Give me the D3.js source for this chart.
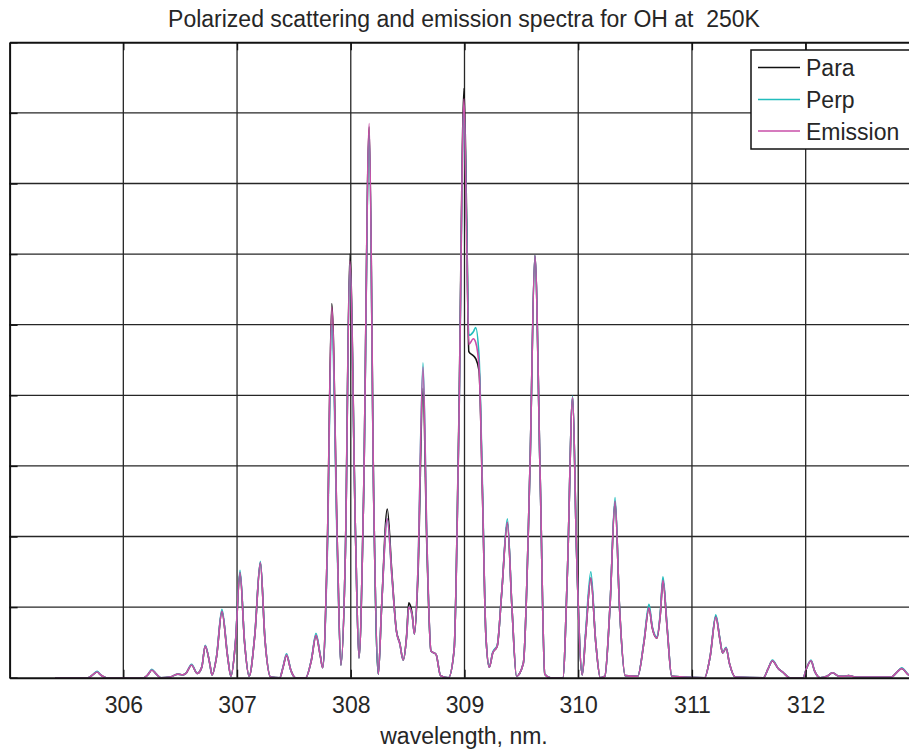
<!DOCTYPE html>
<html>
<head>
<meta charset="utf-8">
<script src="https://cdn.jsdelivr.net/npm/d3@7"></script>
<style>
  html, body { margin: 0; padding: 0; background: #fff; }
  svg { display: block; font-family: "Liberation Sans", Arial, Helvetica, sans-serif; }
</style>
</head>
<body>
<svg id="chart" width="909" height="753"></svg>
<script>
// Wavelength samples (nm), one line per group of spectral lines
const wavelengths = [
  305.40, 305.69, 305.73, 305.77, 305.80, 305.85,
  306.18, 306.22, 306.25, 306.29, 306.33, 306.41, 306.48, 306.52, 306.55,
  306.60, 306.65, 306.69, 306.72, 306.76, 306.78, 306.82, 306.867, 306.917, 306.946, 306.986, 307.026, 307.066, 307.106, 307.156, 307.205, 307.245, 307.295,
  307.375, 307.405, 307.435, 307.474, 307.514, 307.604, 307.654, 307.694, 307.733, 307.753,
  307.793, 307.833, 307.883, 307.913, 307.953, 307.992, 308.042, 308.072, 308.112, 308.162, 308.202, 308.242,
  308.271, 308.321, 308.361, 308.401, 308.431, 308.461, 308.491, 308.510, 308.540, 308.560, 308.590, 308.635, 308.670, 308.705, 308.750, 308.789, 308.859,
  308.909, 308.949, 308.996, 309.019, 309.038, 309.078, 309.098, 309.128, 309.158, 309.188, 309.218, 309.248, 309.288, 309.327, 309.377, 309.417, 309.457,
  309.517, 309.576, 309.619, 309.666, 309.706, 309.756,
  309.865, 309.905, 309.951, 309.985, 310.035, 310.065, 310.111, 310.154, 310.194,
  310.234, 310.279, 310.324, 310.363, 310.413, 310.523, 310.578, 310.622, 310.652, 310.692, 310.722, 310.745, 310.782, 310.822,
  311.111, 311.160, 311.210, 311.245, 311.270, 311.300, 311.330, 311.380,
  311.629, 311.668, 311.708, 311.758, 311.798, 311.858, 311.977, 312.007, 312.047, 312.077, 312.127,
  312.187, 312.236, 312.296, 312.336, 312.376, 312.436, 312.754, 312.804, 312.844, 312.904, 312.974
];

// Parallel-polarized scattering
const para = [
  0, 0, 0.04, 0.08, 0.04, 0,
  0, 0.05, 0.11, 0.05, 0, 0.01, 0.05, 0.04, 0.06,
  0.18, 0.06, 0.15, 0.45, 0.20, 0.04, 0.30, 0.94, 0.30, 0.02, 0.50, 1.49, 0.50, 0.02, 0.60, 1.63, 0.55, 0.01,
  0, 0.15, 0.32, 0.10, 0, 0, 0.25, 0.60, 0.30, 0.14,
  1.8, 5.30, 1.8, 0.18, 1.8, 6.00, 2.0, 0.28, 2.5, 7.80, 2.5, 0.05,
  1.0, 2.39, 1.5, 0.67, 0.49, 0.25, 0.60, 1.06, 0.90, 0.62, 1.4, 4.10, 1.8, 0.38, 0.33, 0.03, 0,
  0.4, 3.5, 8.35, 6.5, 4.62, 4.56, 4.52, 4.35, 2.6, 0.60, 0.15, 0.35, 0.45, 1.2, 2.20, 1.0, 0.02,
  0.2, 3.0, 5.98, 2.8, 0.05, 0,
  0, 1.5, 3.97, 1.8, 0.04, 0.6, 1.41, 0.5, 0,
  0.02, 1.0, 2.50, 1.0, 0.03, 0.02, 0.5, 0.99, 0.70, 0.56, 0.90, 1.38, 0.7, 0.02,
  0, 0.3, 0.87, 0.55, 0.35, 0.42, 0.2, 0.01,
  0, 0.12, 0.24, 0.13, 0.08, 0, 0, 0.13, 0.24, 0.10, 0,
  0.02, 0.07, 0.02, 0.02, 0.03, 0.01, 0.01, 0.08, 0.13, 0.04, 0
];

// Perpendicular-polarized scattering
const perp = [
  0, 0, 0.04, 0.09, 0.04, 0,
  0, 0.05, 0.12, 0.05, 0, 0.01, 0.05, 0.04, 0.06,
  0.19, 0.06, 0.15, 0.46, 0.20, 0.04, 0.31, 0.97, 0.31, 0.02, 0.51, 1.52, 0.51, 0.02, 0.61, 1.65, 0.56, 0.01,
  0, 0.16, 0.34, 0.10, 0, 0, 0.26, 0.63, 0.31, 0.14,
  1.7, 5.00, 1.7, 0.18, 1.8, 5.85, 2.0, 0.28, 2.5, 7.70, 2.5, 0.05,
  1.0, 2.25, 1.45, 0.66, 0.48, 0.25, 0.58, 1.00, 0.88, 0.62, 1.5, 4.46, 1.9, 0.38, 0.33, 0.03, 0,
  0.4, 3.4, 8.10, 6.4, 4.85, 4.90, 4.96, 4.55, 2.7, 0.60, 0.15, 0.36, 0.46, 1.2, 2.25, 1.0, 0.02,
  0.2, 3.0, 5.98, 2.8, 0.05, 0,
  0, 1.5, 3.99, 1.8, 0.04, 0.65, 1.50, 0.5, 0,
  0.02, 1.0, 2.55, 1.0, 0.03, 0.02, 0.52, 1.04, 0.72, 0.58, 0.93, 1.43, 0.72, 0.02,
  0, 0.3, 0.89, 0.56, 0.35, 0.43, 0.2, 0.01,
  0, 0.12, 0.25, 0.13, 0.08, 0, 0, 0.13, 0.25, 0.10, 0,
  0.02, 0.07, 0.02, 0.02, 0.03, 0.01, 0.01, 0.08, 0.14, 0.04, 0
];

// Emission
const emission = [
  0, 0, 0.04, 0.08, 0.04, 0,
  0, 0.05, 0.11, 0.05, 0, 0.01, 0.05, 0.04, 0.06,
  0.18, 0.06, 0.15, 0.45, 0.20, 0.04, 0.30, 0.94, 0.30, 0.02, 0.50, 1.49, 0.50, 0.02, 0.60, 1.63, 0.55, 0.01,
  0, 0.15, 0.32, 0.10, 0, 0, 0.25, 0.60, 0.30, 0.14,
  1.8, 5.25, 1.8, 0.18, 1.8, 5.90, 2.0, 0.28, 2.5, 7.85, 2.5, 0.05,
  1.0, 2.25, 1.45, 0.66, 0.48, 0.25, 0.58, 1.00, 0.88, 0.62, 1.5, 4.40, 1.9, 0.38, 0.33, 0.03, 0,
  0.4, 3.4, 8.20, 6.2, 4.72, 4.80, 4.75, 4.40, 2.6, 0.60, 0.15, 0.35, 0.45, 1.2, 2.20, 1.0, 0.02,
  0.2, 3.0, 5.98, 2.8, 0.05, 0,
  0, 1.5, 3.97, 1.8, 0.04, 0.6, 1.41, 0.5, 0,
  0.02, 1.0, 2.50, 1.0, 0.03, 0.02, 0.5, 0.99, 0.70, 0.56, 0.90, 1.38, 0.7, 0.02,
  0, 0.3, 0.86, 0.55, 0.35, 0.42, 0.2, 0.01,
  0, 0.12, 0.24, 0.13, 0.08, 0, 0, 0.13, 0.24, 0.10, 0,
  0.02, 0.07, 0.02, 0.02, 0.03, 0.01, 0.01, 0.08, 0.13, 0.04, 0
];

const xTicks = [306, 307, 308, 309, 310, 311, 312];
const yTicks = [0, 1, 2, 3, 4, 5, 6, 7, 8, 9];
const seriesNames = ["Para", "Perp", "Emission"];
const seriesColors = ["#111111", "#22bdbd", "#c94fa8"];
const titleText = "Polarized scattering and emission spectra for OH at  250K";
const xLabelText = "wavelength, nm.";

const svg = d3.select("#chart");
const plotLeft = 9.6, plotTop = 42.3, plotBottom = 677.7, plotRight = 919.4;

const x = d3.scaleLinear().domain([305, 313]).range([plotLeft, plotRight]);
const y = d3.scaleLinear().domain([0, 9]).range([plotBottom, plotTop]);

svg.append("defs").append("clipPath").attr("id", "plotClip")
  .append("rect").attr("x", plotLeft).attr("y", plotTop)
  .attr("width", plotRight - plotLeft).attr("height", plotBottom - plotTop);

// plot background
svg.append("rect").attr("x", plotLeft).attr("y", plotTop)
  .attr("width", plotRight - plotLeft).attr("height", plotBottom - plotTop).attr("fill", "#fff");

// grid
const grid = svg.append("g").attr("stroke", "#262626").attr("stroke-width", 1.3);
grid.selectAll("line.gx").data(xTicks).join("line")
  .attr("x1", d => x(d)).attr("x2", d => x(d))
  .attr("y1", plotTop).attr("y2", plotBottom);
grid.selectAll("line.gy").data(yTicks.filter(d => d > 0 && d < 9)).join("line")
  .attr("x1", plotLeft).attr("x2", plotRight)
  .attr("y1", d => y(d)).attr("y2", d => y(d));

// spectra
const rows = wavelengths.map((w, i) => ({ w, v: [para[i], perp[i], emission[i]] }));
const plot = svg.append("g").attr("clip-path", "url(#plotClip)");
seriesNames.forEach((name, k) => {
  const line = d3.line()
    .x(d => x(d.w))
    .y(d => y(d.v[k]))
    .curve(d3.curveMonotoneX);
  plot.append("path")
    .datum(rows)
    .attr("fill", "none")
    .attr("stroke", seriesColors[k])
    .attr("stroke-width", 1.6)
    .attr("stroke-linejoin", "round")
    .attr("d", line);
});

// axes (ticks pointing inward)
const xAxis = d3.axisBottom(x).tickValues(xTicks).tickFormat(d3.format("d"))
  .tickSizeInner(-8).tickSizeOuter(0).tickPadding(18.5);
const gx = svg.append("g").attr("transform", `translate(0,${plotBottom})`).call(xAxis);
gx.select(".domain").attr("stroke", "#111").attr("stroke-width", 2);
gx.selectAll(".tick line").attr("stroke", "#111").attr("stroke-width", 1.3);
gx.selectAll(".tick text").attr("fill", "#262626")
  .style("font-family", "'Liberation Sans', Arial, sans-serif").style("font-size", "23px");

const xTop = d3.axisTop(x).tickValues(xTicks).tickFormat("").tickSizeInner(-8).tickSizeOuter(0);
const gxt = svg.append("g").attr("transform", `translate(0,${plotTop})`).call(xTop);
gxt.select(".domain").attr("stroke", "#111").attr("stroke-width", 2);
gxt.selectAll(".tick line").attr("stroke", "#111").attr("stroke-width", 1.3);

const yAxis = d3.axisLeft(y).tickValues(yTicks).tickFormat("").tickSizeInner(-8).tickSizeOuter(0);
const gy = svg.append("g").attr("transform", `translate(${plotLeft},0)`).call(yAxis);
gy.select(".domain").attr("stroke", "#111").attr("stroke-width", 2);
gy.selectAll(".tick line").attr("stroke", "#111").attr("stroke-width", 1.5);

// title and axis label
svg.append("text").attr("x", 464).attr("y", 27).attr("text-anchor", "middle")
  .attr("xml:space", "preserve").style("white-space", "pre")
  .attr("fill", "#262626").style("font-size", "23px").text(titleText);
svg.append("text").attr("x", 464).attr("y", 744).attr("text-anchor", "middle")
  .attr("fill", "#262626").style("font-size", "23px").text(xLabelText);

// legend
const legend = svg.append("g");
legend.append("rect").attr("x", 751).attr("y", 50).attr("width", 170).attr("height", 99)
  .attr("fill", "#fff").attr("stroke", "#111").attr("stroke-width", 1.5);
const legendRows = [67.5, 99.5, 131];
seriesNames.forEach((name, k) => {
  legend.append("line").attr("x1", 758).attr("x2", 800)
    .attr("y1", legendRows[k]).attr("y2", legendRows[k])
    .attr("stroke", seriesColors[k]).attr("stroke-width", 1.5);
  legend.append("text").attr("x", 806).attr("y", legendRows[k] + 8.5)
    .attr("fill", "#262626").style("font-size", "23px").text(name);
});
</script>
</body>
</html>
